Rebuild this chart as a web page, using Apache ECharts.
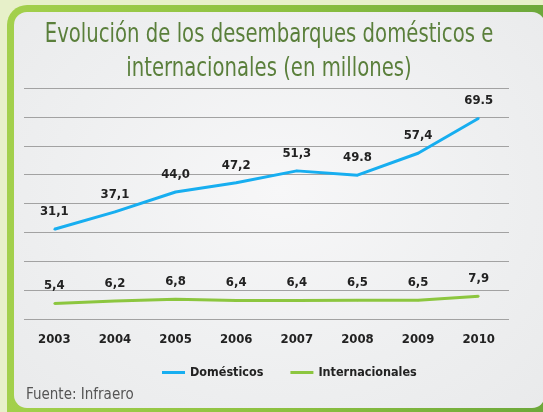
<!DOCTYPE html>
<html>
<head>
<meta charset="utf-8">
<script src="https://cdn.jsdelivr.net/npm/echarts@6/dist/echarts.min.js"></script>
<style>
html,body{margin:0;padding:0;width:543px;height:412px;overflow:hidden;background:#e7f0c9;}
#outer{position:absolute;left:7px;top:5px;width:560px;height:430px;border-radius:20px;background:linear-gradient(90deg,#a3d04c 0%,#8cc040 50%,#6aa63a 100%);}
#inner{position:absolute;left:14px;top:12px;width:531px;height:396px;border-radius:13px;background:radial-gradient(ellipse at 50% 45%,#f7f7f8 0%,#eeeff0 60%,#e9eaeb 100%);}
#chart{position:absolute;left:0;top:0;width:543px;height:412px;}
</style>
</head>
<body>
<div id="outer"></div>
<div id="inner"></div>
<div id="chart"></div>
<script>
var categories = ['2003','2004','2005','2006','2007','2008','2009','2010'];
var domesticos = [31.1, 37.1, 44.0, 47.2, 51.3, 49.8, 57.4, 69.5];
var internacionales = [5.4, 6.2, 6.8, 6.4, 6.4, 6.5, 6.5, 7.9];
var domLabels = ['31,1','37,1','44,0','47,2','51,3','49.8','57,4','69.5'];
var intLabels = ['5,4','6,2','6,8','6,4','6,4','6,5','6,5','7,9'];

var FONT = "'Liberation Sans Narrow','DejaVu Sans Condensed','Roboto Condensed',sans-serif";
var chart = echarts.init(document.getElementById('chart'), null, {renderer:'canvas'});
chart.setOption({
  backgroundColor: 'transparent',
  animation: false,
  legend: {
    top: 361, left: 157,
    icon: 'rect', itemWidth: 23, itemHeight: 3, itemGap: 27,
    textStyle: {fontFamily: FONT, fontSize: 12.5, fontWeight: 'bold', color: '#222'},
    data: ['Domésticos','Internacionales']
  },
  grid: {left: 24, right: 34, top: 88, bottom: 93, containLabel: false},
  xAxis: {
    type: 'category', data: categories, boundaryGap: true,
    axisLine: {show: false}, axisTick: {show: false},
    axisLabel: {margin: 14, fontFamily: FONT, fontSize: 13, fontWeight: 'bold', color: '#222'}
  },
  yAxis: {
    type: 'value', min: 0, max: 80, interval: 10,
    axisLabel: {show: false}, axisLine: {show: false}, axisTick: {show: false},
    splitLine: {lineStyle: {color: '#a2a2a2', width: 1}}
  },
  series: [
    {
      name: 'Domésticos', type: 'line', data: domesticos,
      symbol: 'circle', symbolSize: 2, showSymbol: true,
      lineStyle: {color: '#17aef0', width: 3}, itemStyle: {color: '#17aef0'},
      label: {show: true, position: 'top', distance: 10, fontFamily: FONT, fontSize: 13, fontWeight: 'bold', color: '#222',
        formatter: function(p){ return domLabels[p.dataIndex]; }}
    },
    {
      name: 'Internacionales', type: 'line', data: internacionales,
      symbol: 'circle', symbolSize: 2, showSymbol: true,
      lineStyle: {color: '#8cc63f', width: 3}, itemStyle: {color: '#8cc63f'},
      label: {show: true, position: 'top', distance: 10, fontFamily: FONT, fontSize: 13, fontWeight: 'bold', color: '#222',
        formatter: function(p){ return intLabels[p.dataIndex]; }}
    }
  ],
  graphic: [
    {
      type: 'text', x: 269, y: 52, scaleX: 0.81,
      style: {
        text: 'Evolución de los desembarques domésticos e\ninternacionales (en millones)',
        font: "27px " + FONT, fill: '#5a7f3b', align: 'center', verticalAlign: 'middle', lineHeight: 34
      }
    },
    {
      type: 'text', left: 26, top: 388,
      style: {text: 'Fuente: Infraero', font: "15px " + FONT, fill: '#555'}
    }
  ]
});
</script>
</body>
</html>
